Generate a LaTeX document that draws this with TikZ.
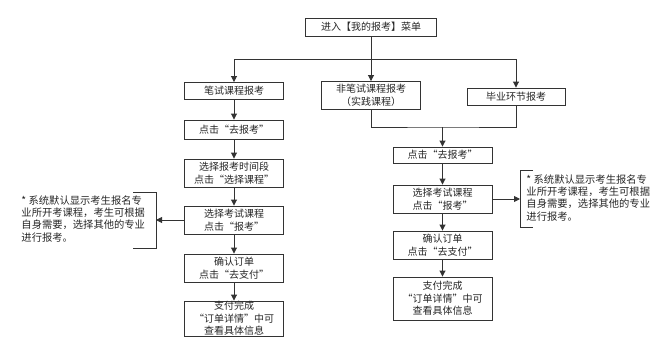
\documentclass[tikz,border=0pt]{standalone}
\usepackage{fontspec}
\setmainfont{Noto Sans CJK SC}
\usetikzlibrary{arrows.meta}
\begin{document}
\begin{tikzpicture}[x=1pt,y=-1pt,
      font=\fontsize{10}{12.5}\selectfont, line width=0.9pt, draw=black!80, text=black!85,
      >={Triangle[length=6pt,width=6pt]},
      box/.style={draw, align=center, inner sep=0pt, minimum width=99pt, minimum height=18pt},
      two/.style={box, minimum height=28pt},
      note/.style={align=left, inner sep=0pt, anchor=north west, font=\fontsize{10.3}{12.3}\selectfont}]
    \useasboundingbox (0,0) rectangle (667,351);
    \node[box, minimum width=131pt] (menu) at (371,27) {进入【我的报考】菜单};
    \node[box, minimum height=17pt] (written) at (234,91) {笔试课程报考};
    \node[two] (practice) at (371,95.5) {非笔试课程报考\\（实践课程）};
    \node[box, minimum width=98pt, minimum height=17pt] (thesis) at (516,96.5) {毕业环节报考};
    \node[box, minimum height=19pt] (lgo) at (234,129.5) {点击“去报考”};
    \node[two] (ltime) at (234,173) {选择报考时间段\\点击“选择课程”};
    \node[two] (lcourse) at (234,220) {选择考试课程\\点击“报考”};
    \node[two] (lorder) at (234,268) {确认订单\\点击“去支付”};
    \node[box, minimum height=35pt] (ldone) at (234,318.5) {支付完成\\“订单详情”中可\\查看具体信息};
    \node[box, minimum height=16pt] (rgo) at (442.5,155) {点击“去报考”};
    \node[two] (rcourse) at (442.5,199) {选择考试课程\\点击“报考”};
    \node[two] (rorder) at (442.5,245) {确认订单\\点击“去支付”};
    \node[box, minimum height=43pt] (rdone) at (442.5,298.5) {支付完成\\“订单详情”中可\\查看具体信息};
    \node[note] (lnote) at (21,195) {\makebox[0.7em][l]{*}系统默认显示考生报名专\\业所开考课程，考生可根据\\自身需要，选择其他的专业\\进行报考。};
    \node[note] (rnote) at (526,174) {\makebox[0.7em][l]{*}系统默认显示考生报名专\\业所开考课程，考生可根据\\自身需要，选择其他的专业\\进行报考。};
    \coordinate (split) at (371,59);
    \coordinate (merge) at (442.5,127);
    \coordinate (lbrk) at (156,220);
    \coordinate (rbrk) at (520,199);
    \draw[->] (menu) -- (practice);
    \draw[->] (split) -| (written);
    \draw[->] (split) -| (thesis);
    \draw (practice) |- (merge) -| (thesis);
    \draw[->] (merge) -- (rgo);
    \draw[->] (written) -- (lgo);
    \draw[->] (lgo) -- (ltime);
    \draw[->] (ltime) -- (lcourse);
    \draw[->] (lcourse) -- (lorder);
    \draw[->] (lorder) -- (ldone);
    \draw[->] (rgo) -- (rcourse);
    \draw[->] (rcourse) -- (rorder);
    \draw[->] (rorder) -- (rdone);
    \draw[->] (lcourse) -- (lbrk);
    \draw[->] (rcourse) -- (rbrk);
    \draw (133,192) -- (156,192) -- (156,248) -- (133,248);
    \draw (533,170) -- (520,170) -- (520,227) -- (533,227);
  \end{tikzpicture}
\end{document}
